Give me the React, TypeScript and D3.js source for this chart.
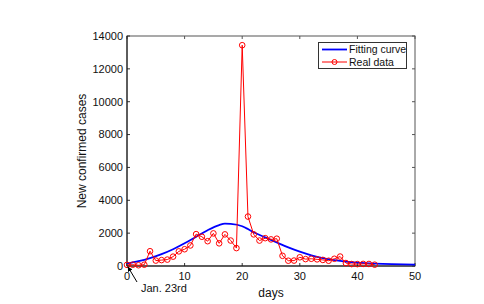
import { useEffect, useRef } from 'react';
import * as d3 from 'd3';

// real data (new confirmed cases per day, day 0 = Jan. 23rd)
const REAL_DAYS = d3.range(0, 44);
const REAL_CASES = [
  70, 77, 46, 80, 900, 330, 360, 390, 570, 890,
  1020, 1250, 1940, 1780, 1510, 1985, 1380, 1925, 1550, 1090,
  13440, 3010, 1925, 1548, 1695, 1620, 1662, 620, 322, 330,
  530, 420, 440, 405, 370, 320, 440, 575, 180, 118,
  115, 128, 124, 80,
];

// fitted curve
const FIT_DAYS = [0, 2, 4, 6, 8, 10, 12, 14, 16, 17, 18, 20, 21, 22, 24, 26, 28, 30, 32, 34, 36, 38, 40, 43, 46, 50];
const FIT_CASES = [150, 290, 480, 720, 1020, 1380, 1780, 2180, 2490, 2575, 2560, 2420, 2250, 2050, 1740, 1430, 1130, 870, 650, 480, 360, 270, 210, 150, 110, 80];

const X_TICKS = [0, 10, 20, 30, 40, 50];
const Y_TICKS = [0, 2000, 4000, 6000, 8000, 10000, 12000, 14000];

const FONT = '"Liberation Sans", Arial, sans-serif';

export default function App() {
  const svgRef = useRef<SVGSVGElement | null>(null);

  useEffect(() => {
    const el = svgRef.current;
    if (!el) return;
    const svg = d3.select(el);
    svg.selectAll('*').remove();

    const left = 127, right = 415, top = 36, bottom = 266;
    const x = d3.scaleLinear().domain([0, 50]).range([left, right]);
    const y = d3.scaleLinear().domain([0, 14000]).range([bottom, top]);

    // box
    svg.append('rect')
      .attr('x', left).attr('y', top)
      .attr('width', right - left).attr('height', bottom - top)
      .attr('fill', '#fff').attr('stroke', '#555').attr('stroke-width', 1);

    // ticks (inward, MATLAB style) on all four sides
    X_TICKS.forEach((t) => {
      svg.append('line').attr('x1', x(t)).attr('x2', x(t)).attr('y1', bottom).attr('y2', bottom - 3)
        .attr('stroke', '#333');
      svg.append('line').attr('x1', x(t)).attr('x2', x(t)).attr('y1', top).attr('y2', top + 3)
        .attr('stroke', '#555');
      svg.append('text')
        .attr('x', x(t)).attr('y', bottom + 14)
        .attr('text-anchor', 'middle')
        .attr('font-family', FONT).attr('font-size', 11).attr('fill', '#111')
        .text(t);
    });
    Y_TICKS.forEach((t) => {
      svg.append('line').attr('x1', left).attr('x2', left + 3).attr('y1', y(t)).attr('y2', y(t))
        .attr('stroke', '#333');
      svg.append('line').attr('x1', right).attr('x2', right - 3).attr('y1', y(t)).attr('y2', y(t))
        .attr('stroke', '#555');
      svg.append('text')
        .attr('x', left - 4).attr('y', y(t))
        .attr('dy', '0.35em')
        .attr('text-anchor', 'end')
        .attr('font-family', FONT).attr('font-size', 11).attr('fill', '#111')
        .text(t);
    });

    // left & bottom axis lines darker
    svg.append('line').attr('x1', left).attr('x2', left).attr('y1', top).attr('y2', bottom)
      .attr('stroke', '#111');
    svg.append('line').attr('x1', left).attr('x2', right).attr('y1', bottom).attr('y2', bottom)
      .attr('stroke', '#111');

    // fitting curve
    const fitPts: [number, number][] = FIT_DAYS.map((d, i) => [x(d), y(FIT_CASES[i])]);
    svg.append('path')
      .attr('d', d3.line().curve(d3.curveMonotoneX)(fitPts))
      .attr('fill', 'none')
      .attr('stroke', '#0000ff')
      .attr('stroke-width', 1.8);

    // real data
    const realPts: [number, number][] = REAL_DAYS.map((d, i) => [x(d), y(REAL_CASES[i])]);
    svg.append('path')
      .attr('d', d3.line()(realPts))
      .attr('fill', 'none')
      .attr('stroke', '#ff0000')
      .attr('stroke-width', 1);
    realPts.forEach(([px, py]) => {
      svg.append('circle')
        .attr('cx', px).attr('cy', py).attr('r', 2.8)
        .attr('fill', 'none')
        .attr('stroke', '#ff0000')
        .attr('stroke-width', 1);
    });

    // annotation arrow to the origin
    svg.append('defs').append('marker')
      .attr('id', 'arrow')
      .attr('viewBox', '0 0 10 10')
      .attr('refX', 9).attr('refY', 5)
      .attr('markerWidth', 5).attr('markerHeight', 5)
      .attr('orient', 'auto')
      .append('path').attr('d', 'M0,0 L10,5 L0,10 z').attr('fill', '#000');
    svg.append('line')
      .attr('x1', x(0) + 10).attr('y1', bottom + 16)
      .attr('x2', x(0) + 1).attr('y2', bottom + 1)
      .attr('stroke', '#000').attr('stroke-width', 1)
      .attr('marker-end', 'url(#arrow)');
    svg.append('text')
      .attr('x', 141).attr('y', 292)
      .attr('font-family', FONT).attr('font-size', 11).attr('fill', '#111')
      .text('Jan. 23rd');

    // axis titles
    svg.append('text')
      .attr('x', (left + right) / 2).attr('y', 297)
      .attr('text-anchor', 'middle')
      .attr('font-family', FONT).attr('font-size', 12).attr('fill', '#111')
      .text('days');
    svg.append('text')
      .attr('transform', `translate(86,${(top + bottom) / 2}) rotate(-90)`)
      .attr('text-anchor', 'middle')
      .attr('font-family', FONT).attr('font-size', 12).attr('fill', '#111')
      .text('New confirmed cases');

    // legend
    const lg = svg.append('g');
    lg.append('rect')
      .attr('x', 318.5).attr('y', 42.5).attr('width', 88).attr('height', 26)
      .attr('fill', '#fff').attr('stroke', '#333').attr('stroke-width', 1);
    lg.append('line').attr('x1', 322).attr('x2', 347).attr('y1', 49.5).attr('y2', 49.5)
      .attr('stroke', '#0000ff').attr('stroke-width', 1.8);
    lg.append('line').attr('x1', 322).attr('x2', 347).attr('y1', 62).attr('y2', 62)
      .attr('stroke', '#ff0000').attr('stroke-width', 1);
    lg.append('circle').attr('cx', 334.5).attr('cy', 62).attr('r', 2.5)
      .attr('fill', 'none').attr('stroke', '#ff0000');
    lg.append('text').attr('x', 349).attr('y', 53)
      .attr('font-family', FONT).attr('font-size', 10.5).attr('fill', '#111')
      .text('Fitting curve');
    lg.append('text').attr('x', 349).attr('y', 65.5)
      .attr('font-family', FONT).attr('font-size', 10.5).attr('fill', '#111')
      .text('Real data');
  }, []);

  return (
    <div style={{ position: 'fixed', left: 0, top: 0, width: 484, height: 304, background: '#fff' }}>
      <svg ref={svgRef} width={484} height={304} style={{ display: 'block' }} />
    </div>
  );
}
